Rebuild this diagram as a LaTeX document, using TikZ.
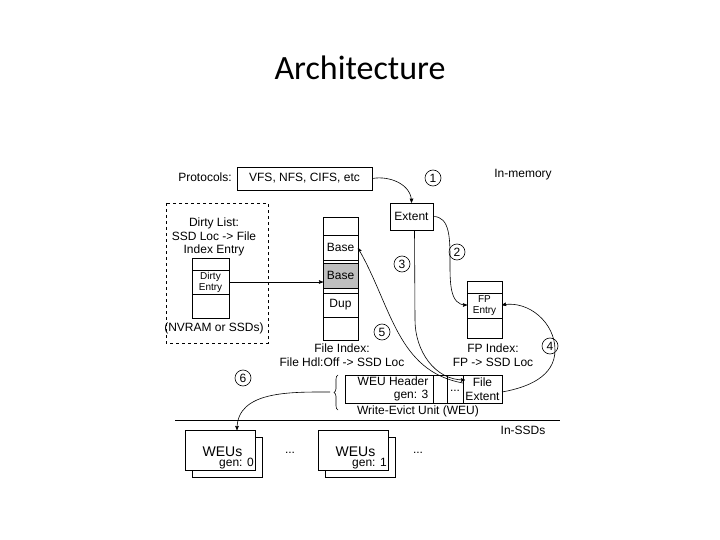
\documentclass[tikz,border=0pt]{standalone}
\usepackage{fontspec}
\setmainfont{Liberation Sans}
\newfontfamily\titlefont{Carlito}
\usetikzlibrary{arrows,positioning,decorations.pathreplacing,calc}
\begin{document}
\begin{tikzpicture}[
  x=1pt,y=-1pt,
  font=\fontsize{12}{13.5}\selectfont,
  >=stealth',
  line width=0.6pt,
  box/.style={draw,inner sep=0pt},
  num/.style={draw,circle,inner sep=1pt,minimum size=16pt},
]
\useasboundingbox (0,0) rectangle (720,540);
\node (title) at (360,68) {\titlefont\fontsize{34}{38}\selectfont Architecture};

\node (proto) at (205,177) {Protocols:};
\node[box,minimum width=135pt,minimum height=23pt] (vfs) at (304.5,178.5) {VFS, NFS, CIFS, etc};
\node (inmem) at (523,175) {In-memory};
\node[box,minimum width=43pt,minimum height=27pt] (extent) at (411.5,216.5) {Extent};

% dirty list
\draw[dashed] (166,203) rectangle (268,343);
\node[align=center] (dirty) at (214,237) {Dirty List:\\SSD Loc -> File\\Index Entry};
\draw (192,258) rectangle (229,318);
\draw (192,270) -- (229,270) (192,294) -- (229,294);
\node[align=center,font=\fontsize{10}{11}\selectfont] (dentry) at (210.5,282) {Dirty\\Entry};
\node (nvram) at (214,328) {(NVRAM or SSDs)};

% file index
\draw (323,217) rectangle (358,340);
\draw (323,235) -- (358,235) (323,260) -- (358,260) (323,317) -- (358,317) (323,293) -- (358,293);
\draw[fill=gray!50] (323,263) rectangle (358,288);
\node (base1) at (340.5,247.5) {Base};
\node (base2) at (340.5,275.5) {Base};
\node (dup) at (340.5,305) {Dup};
\node[align=center] (fidx) at (342,355) {File Index:\\File Hdl:Off -> SSD Loc};

% FP index
\draw (467,281) rectangle (502,338);
\draw (467,293) -- (502,293) (467,318) -- (502,318);
\node[align=center,font=\fontsize{10}{11}\selectfont] (fpentry) at (484.5,305.5) {FP\\Entry};
\node[align=center] (fpidx) at (493,355) {FP Index:\\FP -> SSD Loc};

% WEU
\draw (345,375) rectangle (502,403);
\draw (433,375) -- (433,403) (447,375) -- (447,403) (463,375) -- (463,403);
\node[align=right,anchor=east] (hdr) at (432,389) {WEU Header\\gen: 3};
\node (dots0) at (455,391) {...};
\node[align=center] (fext) at (482.5,389) {File\\Extent};
\draw[decorate,decoration={brace,amplitude=4pt}] (338,410) -- (338,375);
\coordinate (brace) at (330,392);
\node (weu) at (418,411) {Write-Evict Unit (WEU)};

\draw (175,420) -- (560,420);
\node (inssd) at (523,430) {In-SSDs};

% SSD WEUs
\foreach \x/\g in {185/0,318/1} {
  \draw[fill=white] (\x+7,437) rectangle (\x+77,477);
  \draw[fill=white] (\x,430) rectangle (\x+70,470);
  \node[anchor=west] at (\x+14,452) {\fontsize{14}{16}\selectfont WEUs};
  \node[anchor=south east,inner sep=1pt] at (\x+70,470) {gen: \g};
}
\coordinate (weus0) at (237,430);
\node (dots1) at (290,453) {...};
\node (dots2) at (418,453) {...};

% numbers
\node[num] (n1) at (433,178) {1};
\node[num] (n2) at (457,252) {2};
\node[num] (n3) at (402,264) {3};
\node[num] (n4) at (550,346) {4};
\node[num] (n5) at (382,332) {5};
\node[num] (n6) at (243,378) {6};

% connectors
\draw[->] (vfs.east) to[out=10,in=90] (extent.north);
\draw[->] (extent.east) to[out=0,in=180,looseness=0.9] (467,305);
\draw[->] ($(extent.south)+(3,0)$) -- (415,320) to[out=-90,in=180] (465,380);
\draw[->] (463,383) to[out=170,in=-60] (358,248);
\draw[->] (502,392) to[out=10,in=-90] (555,350) to[out=90,in=10] (502,305);
\draw[->] (229,282) -- (323,282);
\draw[->] (brace) to[out=180,in=90] (weus0);
\end{tikzpicture}
\end{document}
